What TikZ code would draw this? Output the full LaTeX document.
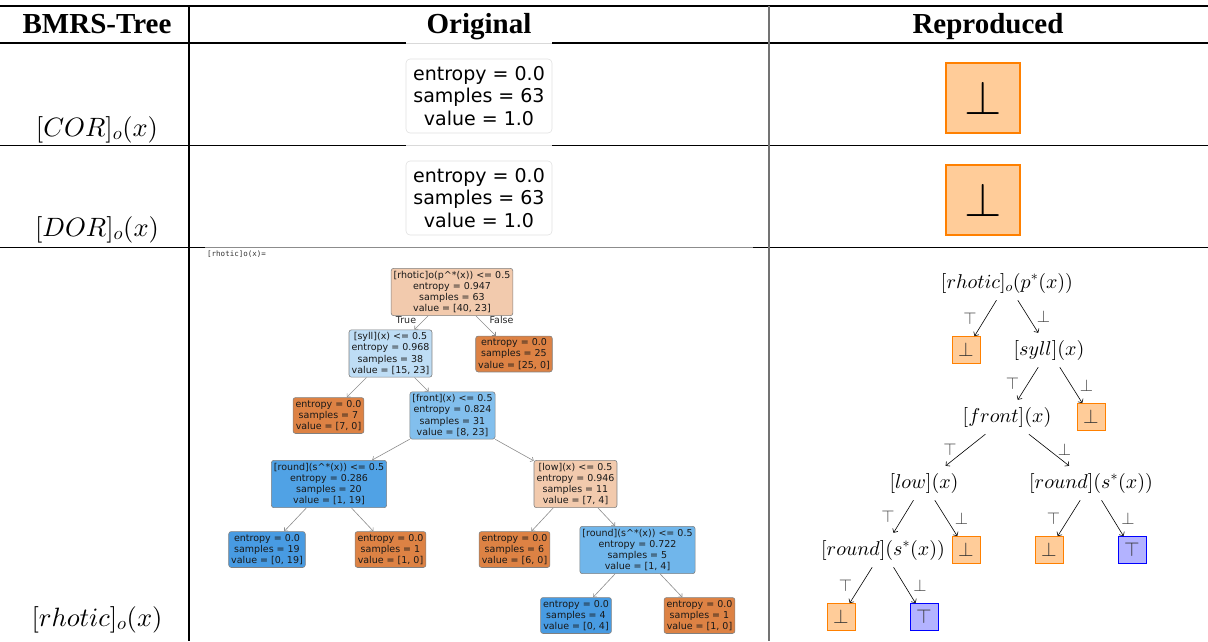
\documentclass[tikz,border=0pt]{standalone}
\usepackage[no-math]{fontspec}
\DeclareFontShape{OML}{cmm}{m}{it}{<->cmmi10}{\skewchar\font'177}
\DeclareFontShape{OMS}{cmsy}{m}{n}{<->cmsy10}{\skewchar\font'60}
\DeclareFontShape{OT1}{cmr}{m}{n}{<->cmr10}{}
\newfontfamily\hdrfont{Liberation Serif}
\newfontfamily\dvs{DejaVu Sans}
\newfontfamily\dvm{DejaVu Sans Mono}
\usetikzlibrary{arrows.meta}
\definecolor{mplorange}{RGB}{221,130,68}
\definecolor{mplblue}{RGB}{72,155,226}
\definecolor{cA}{RGB}{242,202,173}
\definecolor{cB}{RGB}{190,221,245}
\definecolor{cC}{RGB}{130,191,237}
\definecolor{cD}{RGB}{80,162,229}
\definecolor{cE}{RGB}{112,182,235}
\definecolor{peach}{RGB}{255,204,153}
\definecolor{dorange}{RGB}{255,128,0}
\definecolor{lblue}{RGB}{179,179,255}
\begin{document}
\begin{tikzpicture}[x=1pt,y=-1pt,
  hdr/.style={font=\hdrfont\fontsize{29}{34}\selectfont\bfseries, anchor=base, inner sep=0pt},
  rowlab/.style={font=\fontsize{26.5}{30}\selectfont, anchor=base, inner sep=0pt},
  mplbox/.style={draw=black!50, line width=0.6pt, rounded corners=2.5pt, align=center, inner sep=2.5pt,
    font=\dvs\fontsize{9.5}{11.3}\selectfont, text=black!90},
  bigmpl/.style={draw=black!12, line width=0.6pt, rounded corners=4pt, align=center, inner sep=0pt,
    minimum width=146pt, minimum height=74pt, font=\dvs\fontsize{19}{22.5}\selectfont},
  mpledge/.style={draw=black!45, line width=0.6pt, -{Straight Barb[length=2.5pt,width=5pt]}},
  tf/.style={font=\dvs\fontsize{9.5}{11.3}\selectfont, text=black!85, inner sep=0pt},
  rt/.style={font=\fontsize{20}{23}\selectfont, inner sep=0pt, minimum height=34pt},
  leafbot/.style={draw=dorange, fill=peach, line width=0.8pt, minimum width=28pt, minimum height=27pt,
    inner sep=0pt, font=\fontsize{20}{24}\selectfont, text=black!80},
  leaftop/.style={leafbot, draw=blue, fill=lblue},
  bigbox/.style={draw=dorange, fill=peach, line width=1.5pt, minimum width=74pt, minimum height=70pt,
    inner sep=0pt, font=\fontsize{48}{56}\selectfont},
  redge/.style={draw=black, line width=0.6pt, -{Straight Barb[length=3pt,width=6pt]}},
  lab/.style={font=\fontsize{17}{20}\selectfont, text=black!75, inner sep=0pt}]
\useasboundingbox (0,0) rectangle (1208,641);
% table rules
\draw[line width=1.3pt] (0,6) -- (1208,6);
\draw[line width=1.6pt] (0,43) -- (406,43);
\draw[line width=1.6pt] (552,43) -- (1208,43);
\draw[line width=0.5pt, black!15] (406,43) -- (552,43);
\draw[line width=1pt] (0,145) -- (406,145);
\draw[line width=1pt] (552,145) -- (1208,145);
\draw[line width=0.5pt, black!15] (406,145) -- (552,145);
\draw[line width=1pt] (0,247) -- (205,247);
\draw[line width=1pt] (753,247) -- (1208,247);
\draw[line width=1pt, black!45] (205,247) -- (753,247);
\draw[line width=1.1pt] (189,6) -- (189,641);
\draw[line width=1.2pt, black!55] (769,6) -- (769,641);
% headers
\node[hdr] (h1) at (97,33) {BMRS-Tree};
\node[hdr] (h2) at (479,33) {Original};
\node[hdr] (h3) at (988,33) {Reproduced};
% row labels
\node[rowlab] (l1) at (97,136) {$[COR]_o(x)$};
\node[rowlab] (l2) at (97,236) {$[DOR]_o(x)$};
\node[rowlab] (l3) at (97,626) {$[rhotic]_o(x)$};
% rows 1-2
\node[bigmpl] (o1) at (479,96) {entropy = 0.0\\samples = 63\\value = 1.0};
\node[bigmpl] (o2) at (479,198) {entropy = 0.0\\samples = 63\\value = 1.0};
\node[bigbox] (b1) at (983,98) {$\bot$};
\node[bigbox] (b2) at (983,200) {$\bot$};
% original tree
\node[font=\dvm\fontsize{7.5}{8}\selectfont, text=black!80, anchor=west, inner sep=0pt] (ttl) at (207,254) {[rhotic]o(x)=};
\node[mplbox, fill=cA] (m0) at (452,292) {[rhotic]o(p\textasciicircum*(x)) <= 0.5\\entropy = 0.947\\samples = 63\\value = [40, 23]};
\node[mplbox, fill=cB] (m1) at (390.5,353.5) {[syll](x) <= 0.5\\entropy = 0.968\\samples = 38\\value = [15, 23]};
\node[mplbox, fill=mplorange] (m2) at (514,354) {entropy = 0.0\\samples = 25\\value = [25, 0]};
\node[mplbox, fill=mplorange] (m3) at (328.5,415.5) {entropy = 0.0\\samples = 7\\value = [7, 0]};
\node[mplbox, fill=cC] (m4) at (452.5,415.5) {[front](x) <= 0.5\\entropy = 0.824\\samples = 31\\value = [8, 23]};
\node[mplbox, fill=cD] (m5) at (329,484) {[round](s\textasciicircum*(x)) <= 0.5\\entropy = 0.286\\samples = 20\\value = [1, 19]};
\node[mplbox, fill=cA] (m6) at (575.5,484) {[low](x) <= 0.5\\entropy = 0.946\\samples = 11\\value = [7, 4]};
\node[mplbox, fill=mplblue] (m7) at (267,549.5) {entropy = 0.0\\samples = 19\\value = [0, 19]};
\node[mplbox, fill=mplorange] (m8) at (390.5,549.5) {entropy = 0.0\\samples = 1\\value = [1, 0]};
\node[mplbox, fill=mplorange] (m9) at (514.5,549.5) {entropy = 0.0\\samples = 6\\value = [6, 0]};
\node[mplbox, fill=cE] (m10) at (637.5,550) {[round](s\textasciicircum*(x)) <= 0.5\\entropy = 0.722\\samples = 5\\value = [1, 4]};
\node[mplbox, fill=mplblue] (m11) at (576,615.5) {entropy = 0.0\\samples = 4\\value = [0, 4]};
\node[mplbox, fill=mplorange] (m12) at (699.5,615.5) {entropy = 0.0\\samples = 1\\value = [1, 0]};
\draw[mpledge] (m0) -- (m1);
\draw[mpledge] (m0) -- (m2);
\draw[mpledge] (m1) -- (m3);
\draw[mpledge] (m1) -- (m4);
\draw[mpledge] (m4) -- (m5);
\draw[mpledge] (m4) -- (m6);
\draw[mpledge] (m5) -- (m7);
\draw[mpledge] (m5) -- (m8);
\draw[mpledge] (m6) -- (m9);
\draw[mpledge] (m6) -- (m10);
\draw[mpledge] (m10) -- (m11);
\draw[mpledge] (m10) -- (m12);
\node[tf] (tt) at (406,320) {True};
\node[tf] (ff) at (501.5,320) {False};
% reproduced tree
\node[rt] (r0) at (1007,283) {$[rhotic]_o(p^*(x))$};
\node[leafbot] (r1) at (966,350) {$\bot$};
\node[rt] (r2) at (1049,350) {$[syll](x)$};
\node[rt] (r3) at (1007,417) {$[front](x)$};
\node[leafbot] (r4) at (1091,417) {$\bot$};
\node[rt] (r5) at (924,483) {$[low](x)$};
\node[rt] (r6) at (1091,483) {$[round](s^*(x))$};
\node[rt] (r7) at (883,550) {$[round](s^*(x))$};
\node[leafbot] (r8) at (966,550) {$\bot$};
\node[leafbot] (r9) at (1049,550) {$\bot$};
\node[leaftop] (r10) at (1132,550) {$\top$};
\node[leafbot] (r11) at (841,617) {$\bot$};
\node[leaftop] (r12) at (924,617) {$\top$};
\draw[redge] (r0) -- (r1) node[lab, midway, xshift=-15.5pt] {$\top$};
\draw[redge] (r0) -- (r2) node[lab, midway, xshift=15.5pt] {$\bot$};
\draw[redge] (r2) -- (r3) node[lab, midway, xshift=-15.5pt] {$\top$};
\draw[redge] (r2) -- (r4) node[lab, midway, xshift=15.5pt] {$\bot$};
\draw[redge] (r3) -- (r5) node[lab, midway, xshift=-15.5pt] {$\top$};
\draw[redge] (r3) -- (r6) node[lab, midway, xshift=15.5pt] {$\bot$};
\draw[redge] (r5) -- (r7) node[lab, midway, xshift=-15.5pt] {$\top$};
\draw[redge] (r5) -- (r8) node[lab, midway, xshift=15.5pt] {$\bot$};
\draw[redge] (r6) -- (r9) node[lab, midway, xshift=-15.5pt] {$\top$};
\draw[redge] (r6) -- (r10) node[lab, midway, xshift=15.5pt] {$\bot$};
\draw[redge] (r7) -- (r11) node[lab, midway, xshift=-15.5pt] {$\top$};
\draw[redge] (r7) -- (r12) node[lab, midway, xshift=15.5pt] {$\bot$};
\end{tikzpicture}
\end{document}
